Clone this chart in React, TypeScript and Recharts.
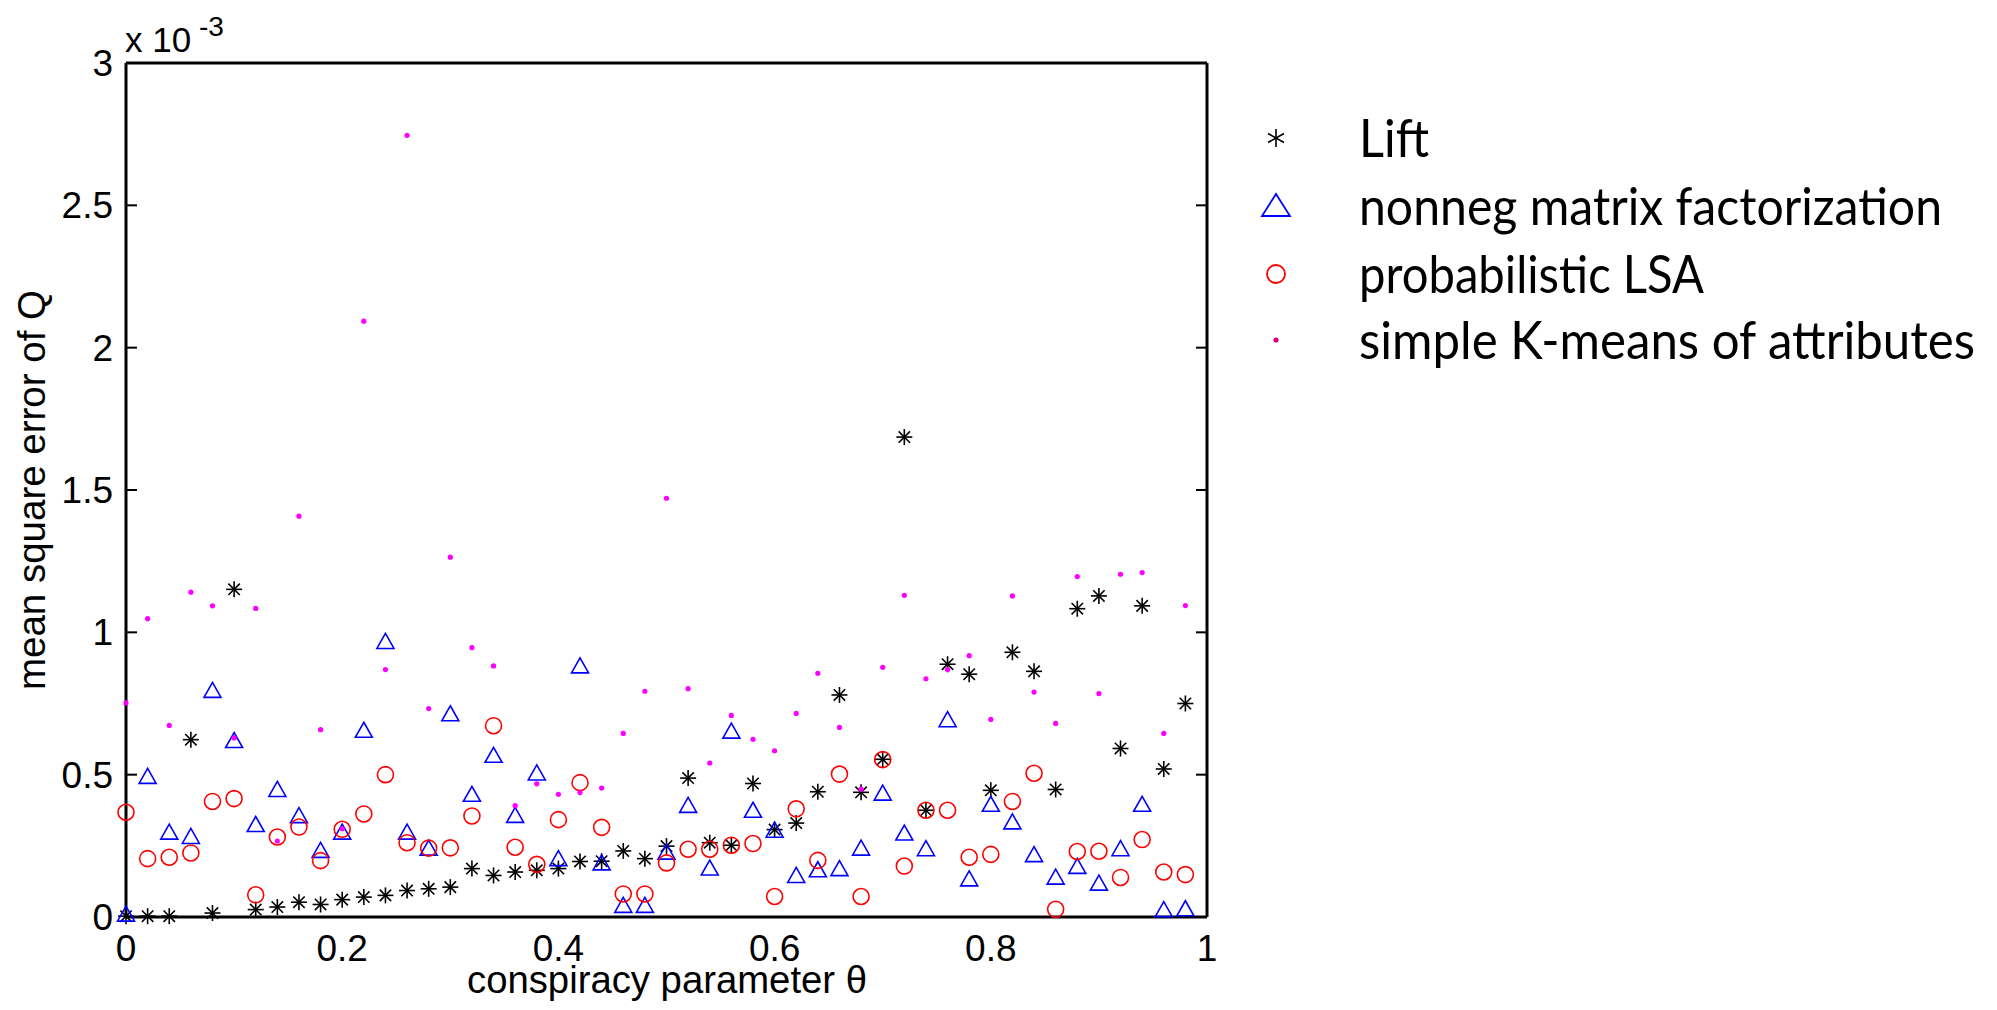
import { Legend, Scatter, ScatterChart, XAxis, YAxis } from "recharts";

const thetas = [
  0, 0.02, 0.04, 0.06, 0.08, 0.1, 0.12, 0.14, 0.16, 0.18, 0.2, 0.22, 0.24, 0.26, 0.28, 0.3, 0.32, 0.34, 0.36, 0.38,
  0.4, 0.42, 0.44, 0.46, 0.48, 0.5, 0.52, 0.54, 0.56, 0.58, 0.6, 0.62, 0.64, 0.66, 0.68, 0.7, 0.72, 0.74, 0.76, 0.78,
  0.8, 0.82, 0.84, 0.86, 0.88, 0.9, 0.92, 0.94, 0.96, 0.98,
];

// values in units of 1e-3
const lift = [
  0.003, 0.003, 0.003, 0.623, 0.014, 1.151, 0.026, 0.035, 0.052, 0.044, 0.061, 0.07, 0.076, 0.093, 0.099, 0.105, 0.17,
  0.146, 0.158, 0.164, 0.17, 0.195, 0.196, 0.232, 0.205, 0.249, 0.488, 0.261, 0.252, 0.469, 0.307, 0.33, 0.44, 0.78,
  0.438, 0.554, 1.686, 0.375, 0.888, 0.853, 0.445, 0.93, 0.863, 0.448, 1.083, 1.128, 0.592, 1.093, 0.52, 0.75,
];

const nmf = [
  0.01, 0.494, 0.298, 0.283, 0.796, 0.62, 0.325, 0.448, 0.356, 0.234, 0.298, 0.656, 0.968, 0.298, 0.242, 0.714, 0.431,
  0.568, 0.357, 0.506, 0.205, 0.882, 0.19, 0.041, 0.041, 0.228, 0.392, 0.172, 0.653, 0.375, 0.305, 0.146, 0.166, 0.17,
  0.242, 0.435, 0.295, 0.24, 0.693, 0.134, 0.396, 0.334, 0.219, 0.14, 0.178, 0.119, 0.24, 0.396, 0.026, 0.029,
];

const plsa = [
  0.368, 0.205, 0.21, 0.225, 0.406, 0.416, 0.078, 0.281, 0.316, 0.198, 0.308, 0.362, 0.5, 0.261, 0.242, 0.243, 0.355,
  0.672, 0.245, 0.185, 0.342, 0.472, 0.315, 0.081, 0.081, 0.19, 0.238, 0.238, 0.252, 0.258, 0.072, 0.38, 0.199, 0.502,
  0.072, 0.553, 0.179, 0.375, 0.375, 0.21, 0.22, 0.406, 0.505, 0.027, 0.23, 0.231, 0.139, 0.272, 0.158, 0.149,
];

const kmeans = [
  0.752, 1.048, 0.673, 1.141, 1.093, 0.629, 1.084, 0.267, 1.408, 0.658, 0.31, 2.093, 0.869, 2.746, 0.732, 1.264, 0.946,
  0.882, 0.391, 0.468, 0.431, 0.437, 0.453, 0.645, 0.793, 1.471, 0.802, 0.541, 0.708, 0.624, 0.584, 0.715, 0.856, 0.666,
  0.449, 0.877, 1.13, 0.837, 0.869, 0.918, 0.694, 1.128, 0.79, 0.68, 1.196, 0.785, 1.204, 1.21, 0.645, 1.094,
];

const xTicks = [0, 0.2, 0.4, 0.6, 0.8, 1];
const yTicks = [0, 0.5, 1, 1.5, 2, 2.5, 3];

const legendLabels = [
  "Lift",
  "nonneg matrix factorization",
  "probabilistic LSA",
  "simple K-means of attributes",
];

const FONT = "'Liberation Sans', Arial, sans-serif";
const toPoints = (ys: number[]) => thetas.map((x, i) => ({ x, y: ys[i] }));

function StarShape({ cx, cy }: any) {
  const r = 8;
  const d = 5.7;
  return (
    <g stroke="#000" strokeWidth={1.6}>
      <line x1={cx - r} y1={cy} x2={cx + r} y2={cy} />
      <line x1={cx} y1={cy - r} x2={cx} y2={cy + r} />
      <line x1={cx - d} y1={cy - d} x2={cx + d} y2={cy + d} />
      <line x1={cx - d} y1={cy + d} x2={cx + d} y2={cy - d} />
    </g>
  );
}

function TriShape({ cx, cy }: any) {
  return (
    <path
      d={`M${cx},${cy - 8} L${cx + 8.5},${cy + 7} L${cx - 8.5},${cy + 7} Z`}
      fill="none"
      stroke="#0000ff"
      strokeWidth={1.6}
    />
  );
}

function CircShape({ cx, cy }: any) {
  return <circle cx={cx} cy={cy} r={8} fill="none" stroke="#ff0000" strokeWidth={1.6} />;
}

function DotShape({ cx, cy }: any) {
  return <circle cx={cx} cy={cy} r={2.6} fill="#ff00ff" />;
}

function XTick({ x, payload }: any) {
  return (
    <text x={x} y={961} textAnchor="middle" fontSize={37} fontFamily={FONT} fill="#000">
      {payload.value}
    </text>
  );
}

function YTick({ y, payload }: any) {
  return (
    <text x={113} y={y + 13} textAnchor="end" fontSize={37} fontFamily={FONT} fill="#000">
      {payload.value}
    </text>
  );
}

// inward tick marks only, no labels
function NoLabel() {
  return <g />;
}

const tickMark = { stroke: "#000", strokeWidth: 2 };
const frame = { stroke: "#000", strokeWidth: 3 };

function LegendBox() {
  const rows = [48, 116, 184, 250];
  const widths = [70, 583, 345, 616];
  return (
    <svg width={757} height={300} style={{ display: "block" }}>
      <g stroke="#000" strokeWidth={1.6}>
        <line x1={36} y1={rows[0] - 9} x2={36} y2={rows[0] + 9} />
        <line x1={28} y1={rows[0] - 4.5} x2={44} y2={rows[0] + 4.5} />
        <line x1={28} y1={rows[0] + 4.5} x2={44} y2={rows[0] - 4.5} />
      </g>
      <path
        d={`M36,${rows[1] - 12} L50,${rows[1] + 10} L22,${rows[1] + 10} Z`}
        fill="none"
        stroke="#0000ff"
        strokeWidth={1.8}
      />
      <circle cx={36} cy={rows[2]} r={9} fill="none" stroke="#ff0000" strokeWidth={1.8} />
      <circle cx={36} cy={rows[3]} r={2.6} fill="#e0007f" />
      {legendLabels.map((label, i) => (
        <text
          key={label}
          x={119}
          y={rows[i] + 19}
          fontSize={53}
          fontFamily="Lato, 'DejaVu Sans', sans-serif"
          fill="#000"
          textLength={widths[i]}
          lengthAdjust="spacingAndGlyphs"
        >
          {label}
        </text>
      ))}
    </svg>
  );
}

export default function App() {
  return (
    <div style={{ position: "absolute", left: 0, top: 0, width: 1997, height: 1010, background: "#fff" }}>
      <ScatterChart width={1997} height={1010} margin={{ top: 63, right: 790, bottom: 0, left: 0 }}>
        <XAxis
          xAxisId="x"
          dataKey="x"
          type="number"
          domain={[0, 1]}
          ticks={xTicks}
          height={93}
          axisLine={frame}
          tickLine={false}
          tick={<XTick />}
          label={() => (
            <text
              x={667}
              y={993}
              textAnchor="middle"
              fontSize={38}
              fontFamily={FONT}
              fill="#000"
              textLength={400}
              lengthAdjust="spacingAndGlyphs"
            >
              conspiracy parameter θ
            </text>
          )}
        />
        <XAxis
          xAxisId="xb"
          type="number"
          domain={[0, 1]}
          allowDataOverflow
          ticks={xTicks}
          orientation="bottom"
          mirror
          axisLine={false}
          tick={<NoLabel />}
          tickSize={11}
          tickLine={tickMark}
        />
        <XAxis
          xAxisId="xt"
          type="number"
          domain={[0, 1]}
          allowDataOverflow
          ticks={xTicks}
          orientation="top"
          mirror
          axisLine={frame}
          tick={<NoLabel />}
          tickSize={11}
          tickLine={tickMark}
        />
        <YAxis
          yAxisId="y"
          dataKey="y"
          type="number"
          domain={[0, 3]}
          ticks={yTicks}
          width={126}
          axisLine={frame}
          tickLine={false}
          tick={<YTick />}
          label={() => (
            <g>
              <text
                x={45}
                y={490}
                transform="rotate(-90, 45, 490)"
                textAnchor="middle"
                fontSize={38}
                fontFamily={FONT}
                fill="#000"
                textLength={400}
                lengthAdjust="spacingAndGlyphs"
              >
                mean square error of Q
              </text>
              <text x={125} y={52} fontSize={35} fontFamily={FONT} fill="#000">
                x 10
              </text>
              <text x={199} y={36} fontSize={28} fontFamily={FONT} fill="#000">
                -3
              </text>
            </g>
          )}
        />
        <YAxis
          yAxisId="yl"
          type="number"
          domain={[0, 3]}
          allowDataOverflow
          ticks={yTicks}
          orientation="left"
          mirror
          axisLine={false}
          tick={<NoLabel />}
          tickSize={11}
          tickLine={tickMark}
        />
        <YAxis
          yAxisId="yr"
          type="number"
          domain={[0, 3]}
          allowDataOverflow
          ticks={yTicks}
          orientation="right"
          mirror
          axisLine={frame}
          tick={<NoLabel />}
          tickSize={11}
          tickLine={tickMark}
        />
        <Legend
          layout="vertical"
          align="center"
          verticalAlign="middle"
          content={() => <LegendBox />}
          wrapperStyle={{ position: "absolute", left: 1240, top: 90, width: 757, height: 300 }}
        />
        <Scatter name="Lift" data={toPoints(lift)} xAxisId="x" yAxisId="y" shape={StarShape} isAnimationActive={false} />
        <Scatter
          name="nonneg matrix factorization"
          data={toPoints(nmf)}
          xAxisId="x"
          yAxisId="y"
          shape={TriShape}
          isAnimationActive={false}
        />
        <Scatter
          name="probabilistic LSA"
          data={toPoints(plsa)}
          xAxisId="x"
          yAxisId="y"
          shape={CircShape}
          isAnimationActive={false}
        />
        <Scatter
          name="simple K-means of attributes"
          data={toPoints(kmeans)}
          xAxisId="x"
          yAxisId="y"
          shape={DotShape}
          isAnimationActive={false}
        />
      </ScatterChart>
    </div>
  );
}
